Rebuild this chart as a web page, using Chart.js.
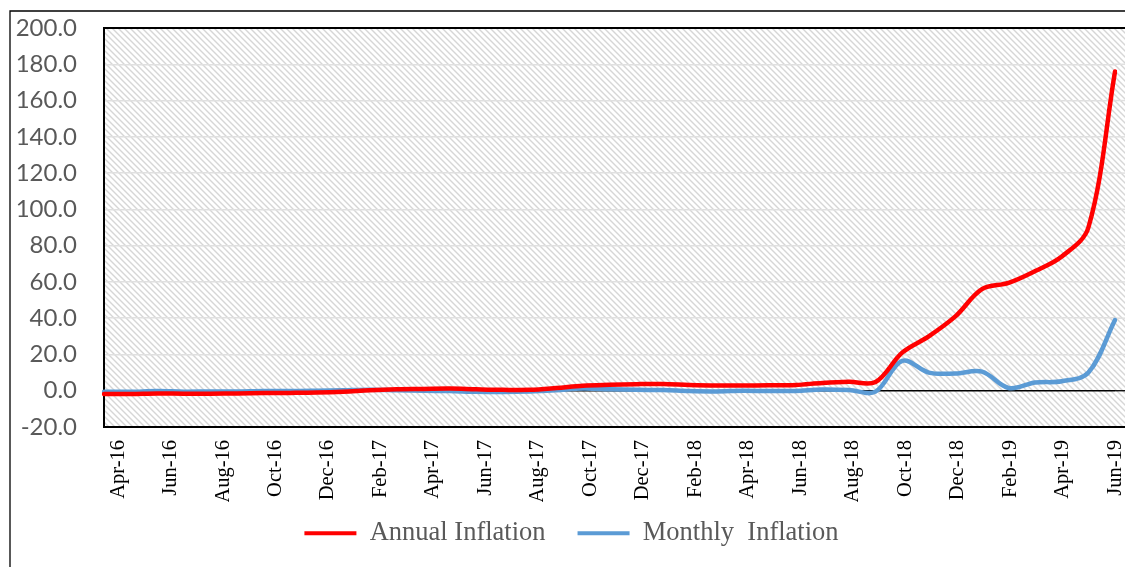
<!DOCTYPE html>
<html>
<head>
<meta charset="utf-8">
<script src="https://cdn.jsdelivr.net/npm/chart.js@4.4.1/dist/chart.umd.min.js"></script>
<style>
  html, body { margin: 0; padding: 0; background: #fff; }
  #wrap { width: 1125px; height: 567px; position: relative; }
</style>
</head>
<body>
<div id="wrap"><canvas id="graficoInflacao"></canvas></div>
<script>
const months = [
    "Apr-16", "May-16", "Jun-16", "Jul-16", "Aug-16", "Sep-16", "Oct-16", "Nov-16", "Dec-16",
    "Jan-17", "Feb-17", "Mar-17", "Apr-17", "May-17", "Jun-17", "Jul-17", "Aug-17", "Sep-17",
    "Oct-17", "Nov-17", "Dec-17", "Jan-18", "Feb-18", "Mar-18", "Apr-18", "May-18", "Jun-18",
    "Jul-18", "Aug-18", "Sep-18", "Oct-18", "Nov-18", "Dec-18", "Jan-19", "Feb-19", "Mar-19",
    "Apr-19", "May-19", "Jun-19"
];

const annualInflation = [
    -1.8, -1.8, -1.5, -1.6, -1.6, -1.5, -1.3, -1.2, -1.0,
    -0.5, 0.3, 0.8, 1.0, 1.2, 0.8, 0.5, 0.5, 1.5,
    2.8, 3.3, 3.6, 3.7, 3.2, 2.9, 2.9, 3.0, 3.2,
    4.3, 4.9, 4.8, 21, 30, 41, 56, 59.5, 66,
    74, 90, 176
];

const monthlyInflation = [
    -0.6, -0.6, -0.2, -0.5, -0.4, -0.4, -0.1, -0.2, 0.0,
    0.3, 0.6, 0.3, 0.0, -0.2, -0.6, -0.7, -0.4, 0.3,
    1.2, 0.8, 0.5, 0.4, -0.2, -0.4, 0.0, -0.2, -0.1,
    0.7, 0.4, -0.5, 16.5, 10, 9.5, 10.5, 1.5, 4.5,
    5.2, 10, 39
];

const yTicks = [-20, 0, 20, 40, 60, 80, 100, 120, 140, 160, 180, 200];

// diagonal hatch like the Excel plot area fill
function hatchPattern(ctx) {
    const p = document.createElement("canvas");
    p.width = 6;
    p.height = 6;
    const pc = p.getContext("2d");
    pc.strokeStyle = "#d6d6d6";
    pc.lineWidth = 1.4;
    pc.beginPath();
    pc.moveTo(-1, -1); pc.lineTo(7, 7);
    pc.moveTo(-1, 5); pc.lineTo(1, 7);
    pc.moveTo(5, -1); pc.lineTo(7, 1);
    pc.stroke();
    return ctx.createPattern(p, "repeat");
}

const plotFrame = {
    id: "plotFrame",
    afterLayout(chart) {
        // legend sits closer to the axis labels than its item spacing allows
        if (chart.legend) {
            chart.legend.top -= 14;
            chart.legend.left += 28;
        }
    },
    beforeDraw(chart) {
        const { ctx, chartArea: a, width } = chart;
        // excel spaces the date labels a little tighter than the points
        const items = chart.scales.x.getLabelItems();
        if (items && !items._squeezed) {
            const k = (a.right - a.left - 14) / (a.right - a.left);
            items.forEach((it) => {
                const t = it.options.translation;
                t[0] = a.left + 14 + (t[0] - a.left) * k;
            });
            items._squeezed = true;
        }
        ctx.save();
        ctx.fillStyle = hatchPattern(ctx);
        ctx.fillRect(a.left, a.top, width - a.left, a.bottom - a.top);
        ctx.restore();
    },
    beforeDatasetsDraw(chart) {
        const { ctx, chartArea: a, width, height } = chart;
        const y = chart.scales.y;
        ctx.save();
        // carry the gridlines to the right edge
        y.ticks.forEach((t) => {
            const py = y.getPixelForValue(t.value);
            ctx.strokeStyle = t.value === 0 ? "#000" : "#e0e0e0";
            ctx.lineWidth = t.value === 0 ? 1.3 : 1.5;
            ctx.beginPath();
            ctx.moveTo(a.right, py);
            ctx.lineTo(width, py);
            ctx.stroke();
        });
        // plot area border
        ctx.strokeStyle = "#000";
        ctx.lineWidth = 2;
        ctx.beginPath();
        ctx.moveTo(width, a.top);
        ctx.lineTo(a.left, a.top);
        ctx.lineTo(a.left, a.bottom);
        ctx.lineTo(width, a.bottom);
        ctx.stroke();
        // chart border
        ctx.lineWidth = 1.3;
        ctx.beginPath();
        ctx.moveTo(10, height);
        ctx.lineTo(10, 11);
        ctx.lineTo(width, 11);
        ctx.stroke();
        ctx.restore();
    },
};

const ctx = document.getElementById("graficoInflacao");
if (ctx) {
    new Chart(ctx, {
        type: "line",
        data: {
            labels: months,
            datasets: [
                {
                    label: "Annual Inflation",
                    data: annualInflation,
                    borderColor: "#ff0000",
                    backgroundColor: "#ff0000",
                    borderWidth: 4.5,
                    borderCapStyle: "round",
                    pointRadius: 0,
                    tension: 0.35,
                },
                {
                    label: "Monthly  Inflation",
                    data: monthlyInflation,
                    borderColor: "#5b9bd5",
                    backgroundColor: "#5b9bd5",
                    borderWidth: 4.5,
                    borderCapStyle: "round",
                    pointRadius: 0,
                    tension: 0.35,
                },
            ],
        },
        options: {
            responsive: true,
            maintainAspectRatio: false,
            animation: false,
            layout: { padding: { top: 28, right: 10, left: 0, bottom: 0 } },
            scales: {
                x: {
                    offset: false,
                    grid: { display: false, drawTicks: false },
                    border: { display: false },
                    afterFit: (scale) => {
                        scale.height = 75;
                        scale.paddingLeft = 0;
                        scale.paddingRight = 0;
                    },
                    ticks: {
                        autoSkip: false,
                        maxRotation: 90,
                        minRotation: 90,
                        padding: 13,
                        labelOffset: 0,
                        color: "#000",
                        font: { family: "'Liberation Serif', 'Times New Roman', serif", size: 20.5 },
                        callback: function (value, index) {
                            return index % 2 === 0 ? months[index] : "";
                        },
                    },
                },
                y: {
                    min: -20,
                    max: 200,
                    afterFit: (scale) => {
                        scale.width = 104;
                        scale.paddingTop = 0;
                        scale.paddingBottom = 0;
                    },
                    afterBuildTicks: (scale) => {
                        scale.ticks = yTicks.map((v) => ({ value: v }));
                    },
                    border: { display: false },
                    grid: {
                        drawTicks: false,
                        lineWidth: 1.5,
                        color: (c) => (c.tick && c.tick.value === 0 ? "#000" : "#e0e0e0"),
                    },
                    ticks: {
                        padding: 27,
                        color: "#595959",
                        font: { family: "Lato, Calibri, sans-serif", size: 24 },
                        callback: function (value) {
                            return Number(value).toFixed(1);
                        },
                    },
                },
            },
            plugins: {
                legend: {
                    position: "bottom",
                    maxHeight: 65,
                    labels: {
                        boxWidth: 52,
                        boxHeight: 4,
                        padding: 32,
                        color: "#595959",
                        font: { family: "'Liberation Serif', 'Times New Roman', serif", size: 26.5 },
                        generateLabels: function (chart) {
                            return chart.data.datasets.map((ds, i) => ({
                                text: ds.label,
                                fillStyle: ds.borderColor,
                                strokeStyle: ds.borderColor,
                                lineWidth: 0,
                                fontColor: "#595959",
                                datasetIndex: i,
                            }));
                        },
                    },
                },
                tooltip: { enabled: false },
            },
        },
        plugins: [plotFrame],
    });
}
</script>
</body>
</html>
